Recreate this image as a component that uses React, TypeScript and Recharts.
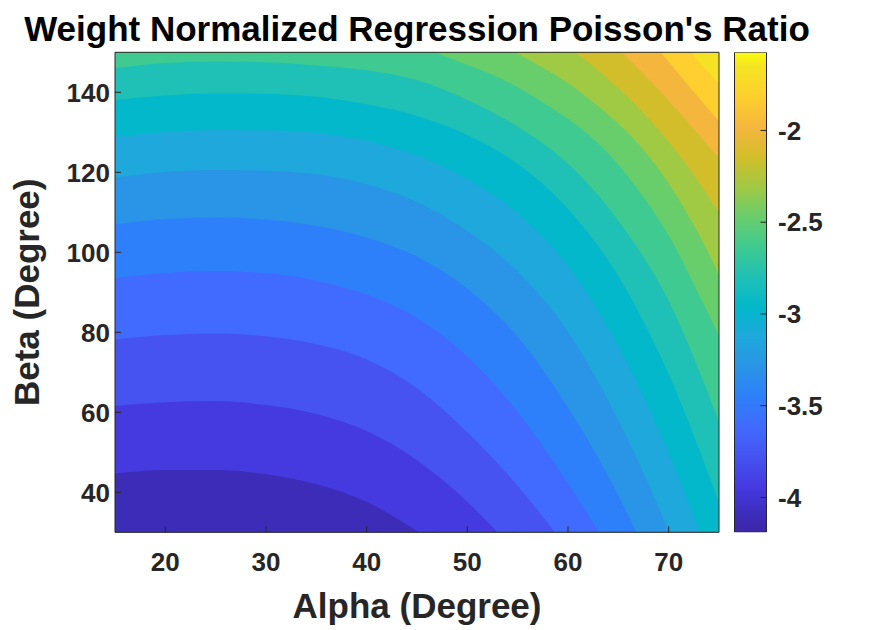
import React from 'react';
import { ComposedChart, BarChart, Area, Bar, XAxis, YAxis } from 'recharts';

// contour lines of the surface, [alpha, beta], lowest level first
const c01 = [[15, 44.7], [20, 45.6], [25, 45.6], [30, 44.5], [35, 42.0], [40, 37.6], [45, 30.3], [47, 27]];
const c02 = [[15, 61.6], [20, 62.5], [25, 62.8], [30, 61.8], [35, 59.6], [40, 55.3], [45, 48.0], [50, 37.6], [53, 30], [55, 24.5]];
const c03 = [[15, 78.2], [20, 79.3], [25, 79.7], [30, 79.0], [35, 77.0], [40, 73.2], [45, 66.0], [50, 55.0], [55, 41.6], [58.7, 30], [60.5, 24]];
const c04 = [[15, 93.5], [20, 94.8], [25, 95.3], [30, 94.8], [35, 92.9], [40, 89.4], [45, 83.6], [50, 74.0], [55, 60.1], [60, 42.3], [63.1, 30], [64.6, 24]];
const c05 = [[15, 107], [20, 108.3], [25, 108.7], [30, 108.2], [35, 106.6], [40, 103.7], [45, 98.9], [50, 90.9], [55, 78.9], [60, 61.2], [65, 39.2], [66.8, 30], [68, 23.5]];
const c06 = [[15, 118.7], [20, 120.1], [25, 120.6], [30, 120.4], [35, 119.5], [40, 117.0], [45, 112.6], [50, 105.4], [55, 95.2], [60, 80.1], [65, 58.0], [70, 30], [71, 23.5]];
const c07 = [[15, 128.9], [20, 130.1], [25, 130.6], [30, 130.5], [35, 129.9], [40, 127.9], [45, 124.2], [50, 118.3], [55, 109.7], [60, 96.6], [65, 76.6], [70, 49.8], [73.1, 30], [74, 24]];
const c08 = [[15, 138.1], [20, 139.2], [25, 139.7], [30, 139.6], [35, 138.9], [40, 137.0], [45, 134.1], [50, 129.35], [55, 122.1], [60, 110.85], [65, 94.0], [70, 69.5], [75, 37.5]];
const c09 = [[15, 146], [20, 147.3], [25, 147.7], [30, 147.5], [35, 146.7], [40, 145.5], [45, 143.0], [50, 138.1], [55, 131.4], [60, 122.15], [65, 107.9], [70, 87.8], [75, 57.6]];
const c10 = [[15, 155], [44, 153], [46.8, 150], [55.8, 140.1], [65.6, 120.1], [70.9, 100.1], [72.75, 90.7], [74.8, 80.1], [75, 79.0]];
const c11 = [[15, 156], [52.5, 153.5], [54.8, 150], [61.2, 140.1], [69.2, 120.1], [73.9, 100.1], [75, 94.3]];
const c12 = [[15, 157], [58.7, 153.5], [60.7, 150], [65.4, 140.1], [72.3, 120.1], [75, 109.8]];
const c13 = [[15, 157], [63.7, 153.5], [65.3, 150], [69.2, 140.1], [75, 123.5]];
const c14 = [[15, 157], [68, 153.5], [69.2, 150], [72.5, 140.1], [75, 132.8]];
const c15 = [[15, 157], [71, 153.4], [72.2, 150], [75, 142.2]];
const topEdge = [[15, 150], [75, 150]];

// band colours, bottom band first
const bandColors = [
  '#3D2CB7', '#4539E0', '#4653F0', '#416AFE', '#2E80FA', '#2A94E6', '#1EA8DC', '#02B8CA',
  '#1FC0B5', '#3ECA91', '#68CD6B', '#A0C944', '#D2BE2A', '#F5B63E', '#FECF2E', '#F5E323',
];

const alphaTicks = [20, 30, 40, 50, 60, 70];
const betaTicks = [40, 60, 80, 100, 120, 140];
const cbTicks = [-4, -3.5, -3, -2.5, -2];
const cbMin = -4.19;
const cbMax = -1.574;
const cbData = [{ k: 'cb', v: [cbMin, cbMax] }];

const contours = [c01, c02, c03, c04, c05, c06, c07, c08, c09, c10, c11, c12, c13, c14, c15];
const toPts = (rows: number[][]) => rows.map(([a, b]) => ({ a, b }));

const AX = '#262626';
const FONT = '"Liberation Sans", Arial, Helvetica, sans-serif';
const tickStyle = { fill: AX, fontSize: 26, fontWeight: 700, fontFamily: FONT };

export default function App() {
  // paint from the top band down, each area covers everything below its line
  const layers = [{ pts: topEdge, fill: bandColors[15] }];
  for (let k = contours.length - 1; k >= 0; k--) {
    layers.push({ pts: contours[k], fill: bandColors[k] });
  }

  return (
    <div style={{ position: 'absolute', left: 0, top: 0, width: 884, height: 630, background: '#fff', fontFamily: FONT }}>
      <div
        style={{
          position: 'absolute', left: 0, top: 11, width: 834, textAlign: 'center',
          fontSize: 35, fontWeight: 700, lineHeight: 1, color: '#000', whiteSpace: 'nowrap',
        }}
      >
        Weight Normalized Regression Poisson's Ratio
      </div>

      <div style={{ position: 'absolute', left: 0, top: 0 }}>
        <ComposedChart width={884} height={630} margin={{ top: 51.3, right: 164, bottom: 37.7, left: 13 }}>
          <XAxis
            dataKey="a" type="number" domain={[15, 75]} ticks={alphaTicks} allowDataOverflow interval={0}
            height={60} tickSize={-6} tickMargin={26} stroke={AX} tick={tickStyle}
            label={{ value: 'Alpha (Degree)', position: 'bottom', offset: 1, fill: AX, fontSize: 35, fontWeight: 700 }}
          />
          <XAxis
            xAxisId="top" orientation="top" dataKey="a" type="number" domain={[15, 75]} ticks={alphaTicks}
            allowDataOverflow interval={0} height={1} tickSize={-6} tick={false} stroke={AX}
          />
          <YAxis
            type="number" domain={[30, 150]} ticks={betaTicks} allowDataOverflow interval={0}
            width={102} tickSize={-6} tickMargin={11} stroke={AX} tick={tickStyle}
            label={{
              value: 'Beta (Degree)', angle: -90, position: 'insideLeft', offset: 14,
              fill: AX, fontSize: 35, fontWeight: 700, style: { textAnchor: 'middle' },
            }}
          />
          <YAxis
            yAxisId="right" orientation="right" type="number" domain={[30, 150]} ticks={betaTicks}
            allowDataOverflow interval={0} width={1} tickSize={-6} tick={false} stroke={AX}
          />
          {layers.map((l, i) => (
            <Area
              key={i}
              data={toPts(l.pts)}
              dataKey="b"
              type="monotone"
              baseValue={30}
              stroke="none"
              fill={l.fill}
              fillOpacity={1}
              dot={false}
              activeDot={false}
              isAnimationActive={false}
            />
          ))}
        </ComposedChart>
      </div>

      <div style={{ position: 'absolute', left: 0, top: 0 }}>
        <BarChart
          width={884} height={630} data={cbData} barCategoryGap={0} barGap={0}
          margin={{ top: 52.3, right: 37.5, bottom: 97.7, left: 734.5 }}
        >
          <defs>
            <linearGradient id="parula" x1="0" y1="1" x2="0" y2="0">
              <stop offset="0" stopColor="#3E26A8" />
              {bandColors.map((c, i) => (
                <stop key={i} offset={(i + 0.5) / bandColors.length} stopColor={c} />
              ))}
              <stop offset="1" stopColor="#F9FB0E" />
            </linearGradient>
          </defs>
          <XAxis dataKey="k" hide />
          <YAxis
            orientation="right" type="number" domain={[cbMin, cbMax]} allowDataOverflow ticks={cbTicks}
            interval={0} width={80} tickSize={-6} tickMargin={17.5} axisLine={false} stroke={AX} tick={tickStyle}
          />
          <Bar dataKey="v" fill="url(#parula)" stroke={AX} strokeWidth={1} isAnimationActive={false} />
        </BarChart>
      </div>
    </div>
  );
}
